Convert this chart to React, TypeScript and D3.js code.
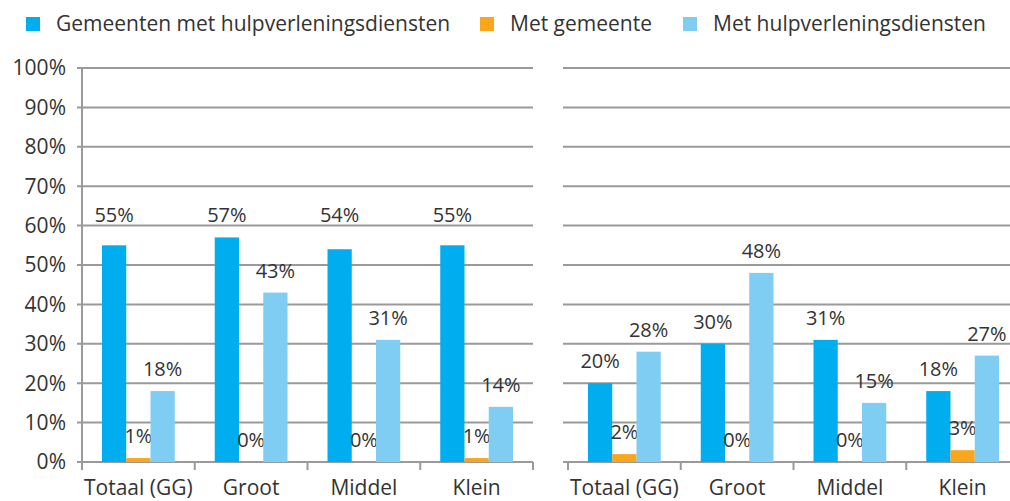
import React from 'react';
import * as d3 from 'd3';

const categories = ['Totaal (GG)', 'Groot', 'Middel', 'Klein'];
const seriesNames = ['Gemeenten met hulpverleningsdiensten', 'Met gemeente', 'Met hulpverleningsdiensten'];
const colors = ['#00adef', '#f9a61c', '#7fcdf3'];

// left panel
const leftDark = [55, 57, 54, 55];
const leftOrange = [1, 0, 0, 1];
const leftLight = [18, 43, 31, 14];
// right panel
const rightDark = [20, 30, 31, 18];
const rightOrange = [2, 0, 0, 3];
const rightLight = [28, 48, 15, 27];

const yTicks = [0, 10, 20, 30, 40, 50, 60, 70, 80, 90, 100];

const W = 1010, H = 501;
const FONT = '"Open Sans", sans-serif';
const TEXT = '#333';
const GRID = '#9a9a9a';

const y = d3.scaleLinear().domain([0, 100]).range([462, 68]);

function Panel({ x0, x1, series, alignDark, showYLabels, gridRight }) {
  const x = d3.scaleBand().domain(categories).range([x0, x1]);
  const bw = x.bandwidth();
  const inner = d3.scaleBand().domain(['0', '1', '2']).range([20, bw - 20]);
  const darkTop = d3.max(series[0]);
  return (
    <g>
      {yTicks.map(t => (
        <g key={t}>
          <line x1={x0 - 5} x2={gridRight} y1={y(t)} y2={y(t)} stroke={GRID} strokeWidth={2} />
          {showYLabels && (
            <text x={x0 - 16} y={y(t)} dy="0.35em" textAnchor="end" fontSize={21} fill={TEXT}>{t}%</text>
          )}
        </g>
      ))}
      {showYLabels && <line x1={x0} x2={x0} y1={y(100)} y2={y(0)} stroke={GRID} strokeWidth={2} />}
      {[...categories.map(c => x(c)), x0 + bw * categories.length].map((p, i) => (
        <line key={i} x1={p} x2={p} y1={y(0)} y2={y(0) + 8} stroke={GRID} strokeWidth={2} />
      ))}
      {categories.map((c, ci) => (
        <g key={c}>
          {series.map((s, si) => {
            const bx = x(c) + inner(String(si));
            const v = s[ci];
            const labelV = alignDark && si === 0 ? darkTop : v;
            return (
              <g key={si}>
                <rect x={bx} y={y(v)} width={inner.bandwidth()} height={y(0) - y(v)} fill={colors[si]} />
                <text x={bx + inner.bandwidth() / 2} y={y(labelV) - 22} dy="0.35em" textAnchor="middle" fontSize={20} fill={TEXT}>{v}%</text>
              </g>
            );
          })}
          <text x={x(c) + bw / 2} y={495} textAnchor="middle" fontSize={21} fill={TEXT}>{c}</text>
        </g>
      ))}
    </g>
  );
}

export default function App() {
  const legendX = [26, 480, 683];
  return (
    <svg width={W} height={H} style={{ position: 'absolute', left: 0, top: 0 }} fontFamily={FONT}>
      <rect width={W} height={H} fill="#fff" />
      {seriesNames.map((n, i) => (
        <g key={n}>
          <rect x={legendX[i]} y={17} width={14} height={14} fill={colors[i]} />
          <text x={legendX[i] + 30} y={24} dy="0.35em" fontSize={21} fill={TEXT}>{n}</text>
        </g>
      ))}
      <Panel x0={82} x1={533} series={[leftDark, leftOrange, leftLight]} alignDark showYLabels gridRight={533} />
      <Panel x0={568} x1={1019} series={[rightDark, rightOrange, rightLight]} alignDark={false} showYLabels={false} gridRight={1010} />
    </svg>
  );
}
